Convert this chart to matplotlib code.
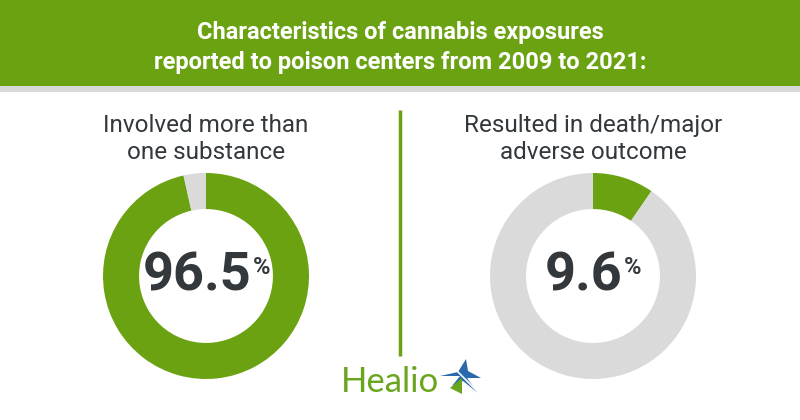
"""
大麻曝露の特徴 — 中毒センター報告 (2009-2021) のドーナツ図
"""

import matplotlib
matplotlib.use('Agg')
import matplotlib.pyplot as plt
from matplotlib.patches import Rectangle, Polygon

# データ
TITLE_LINES = ["Characteristics of cannabis exposures",
               "reported to poison centers from 2009 to 2021:"]
LABELS = ["Involved more than\none substance",
          "Resulted in death/major\nadverse outcome"]
PERCENTS = [96.5, 9.6]
PERCENT_TEXT = ["96.5", "9.6"]

GREEN = "#6ba212"
GRAY = "#dadada"
DARK = "#33383c"

plt.rcParams['font.family'] = ['Roboto', 'DejaVu Sans']

W, H = 800, 420
fig = plt.figure(figsize=(8, 4.2), dpi=100)
bg = fig.add_axes([0, 0, 1, 1])
bg.set_xlim(0, W)
bg.set_ylim(H, 0)
bg.axis('off')

# ヘッダー
bg.add_patch(Rectangle((0, 0), W, 86, color=GREEN, lw=0))
bg.add_patch(Rectangle((0, 86), W, 6, color="#d9d9d9", lw=0))
for i, line in enumerate(TITLE_LINES):
    bg.text(W / 2, 33 + i * 29, line, color="white", fontsize=17,
            fontweight='bold', ha='center', va='center')

# 区切り線
bg.plot([400, 400], [110, 356], color=GREEN, lw=2.5, solid_capstyle='butt')

renderer = fig.canvas.get_renderer()

# ドーナツ
centers = [(206, 276), (593, 276)]
R = 103
for (cx, cy), pct, txt, label in zip(centers, PERCENTS, PERCENT_TEXT, LABELS):
    bg.text(cx, 139, label, color=DARK, fontsize=17.5, ha='center',
            va='center', linespacing=1.2)
    ax = fig.add_axes([(cx - R) / W, (H - cy - R) / H, 2 * R / W, 2 * R / H])
    ax.pie([pct, 100 - pct], colors=[GREEN, GRAY], startangle=90,
           counterclock=False, radius=1,
           wedgeprops=dict(width=0.35, linewidth=0))
    ax.set_xlim(-1, 1)
    ax.set_ylim(-1, 1)
    ax.axis('off')
    t = bg.text(cx - 9, cy, txt, color=DARK, fontsize=39, fontweight='bold',
                ha='center', va='center')
    # パーセント記号は数字の右上に
    bb = t.get_window_extent(renderer)
    bg.text(bb.x1 + 1, cy - 9, "%", color=DARK, fontsize=17,
            fontweight='bold', ha='left', va='center')

# Healio ロゴ
bg.text(341, 382, "Healio", color="#6aa51e", fontsize=25, ha='left',
        va='center', family=['Lato', 'DejaVu Sans'])
star = [(440, 376), (458, 372), (466, 359), (468, 371), (481, 378),
        (467, 378), (478, 393), (463, 381), (452, 386), (460, 376)]
bg.add_patch(Polygon(star, closed=True, color="#2a6aac", lw=0))
bg.add_patch(Polygon([(450, 388), (462, 378), (462, 394)], closed=True,
                     color="#6aa51e", lw=0))
bg.plot([452, 478], [366, 392], color="white", lw=1.2)

fig.savefig("out.png", dpi=100)
